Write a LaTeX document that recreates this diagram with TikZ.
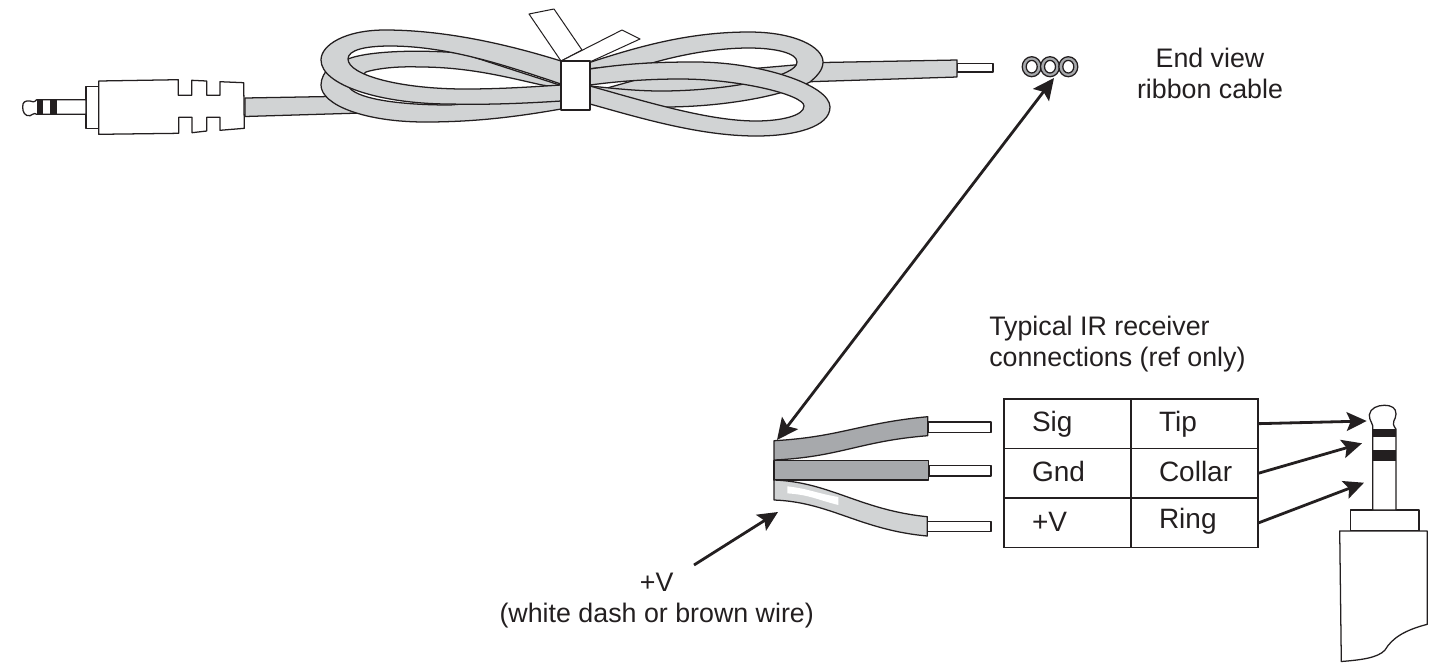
\documentclass[tikz,border=0pt]{standalone}
\usepackage{fontspec}
\setmainfont{Liberation Sans}
\usetikzlibrary{arrows.meta}
\definecolor{ink}{HTML}{231F20}
\definecolor{jacket}{HTML}{D1D3D4}
\definecolor{darkjacket}{HTML}{A7A9AC}
\tikzset{
  x=0.75pt,y=-0.75pt,
  outline/.style={draw=ink,line width=0.95pt,line join=round},
  band/.style={outline,fill=jacket,even odd rule},
  whitepart/.style={outline,fill=white},
  black band/.style={fill=ink,draw=none},
  cell/.style={draw=ink,line width=1pt,minimum width=95.25pt,minimum height=37pt,inner xsep=0pt,inner ysep=0pt,text width=74.25pt,align=left,font=\fontsize{21}{25}\selectfont,text=ink,outer sep=0pt},
  label text/.style={font=\fontsize{20.1}{23.25}\selectfont,text=ink,inner sep=0pt,align=center},
  pointer/.style={draw=ink,line width=2.1pt,-{Stealth[length=15pt,width=14pt,inset=3pt]}},
  both pointer/.style={draw=ink,line width=2.1pt,{Stealth[length=16pt,width=15pt,inset=3pt]}-{Stealth[length=16pt,width=15pt,inset=3pt]}},
}
\newcommand{\cellstrut}{\hspace*{10.5pt}\rule[-6pt]{0pt}{24pt}}
\begin{document}
\begin{tikzpicture}
\useasboundingbox (0,0) rectangle (1444,662);
% ---- cable, left part
\path[outline,fill=jacket] (245,98) -- (330,96.5) -- (355,96) -- (362,113) -- (245,116.5) -- cycle;
% left plug
\path[whitepart] (86,86.3) rectangle (98.7,128.3);
\path[whitepart] (36.7,99.7) -- (86,99.7) -- (86,114.3) -- (36.7,114.3)
  .. controls (34,112) and (32,115.5) .. (30,115.7) .. controls (25,116.5) and (22.5,112) .. (22.7,107)
  .. controls (22.5,102) and (25,100.5) .. (30,101) .. controls (32,101.5) and (34,103) .. (36.7,99.7) -- cycle;
\path[black band] (36.7,99.7) rectangle (42.7,114.3);
\path[black band] (50,99.7) rectangle (57,114.3);
\path[whitepart] (98.7,81) -- (178.3,79.7) -- (178.3,95.3) -- (191.7,95.3) -- (191.7,80.3) -- (206.7,81) -- (206.7,95.3) -- (220,95.3) -- (220,81.7) -- (243.7,82.7) -- (244.3,128.3) -- (220,130.3) -- (220,117.3) -- (206.7,117.3) -- (206.7,131) -- (192,132.7) -- (192,117.3) -- (178.7,117.3) -- (178.7,133.3) -- (98.7,134.3) -- cycle;
% back left loop
\path[band]
  (561,109) .. controls (510,118) and (470,122) .. (425,122) .. controls (365,122) and (321,105) .. (321,85) .. controls (321,72) and (335,59) .. (348,59) .. controls (365,52) and (410,49) .. (461,53) -- (575,90) -- (575,108) -- cycle
  (349,87) .. controls (355,97) and (390,105) .. (450,105) -- (575,95) -- (575,90) -- (542,85) .. controls (510,78) and (470,67) .. (420,67) .. controls (395,66) and (375,69) .. (366,72) -- cycle;
% front left loop
\path[band]
  (561,61) .. controls (500,42) and (440,30) .. (385,30) .. controls (345,30) and (321,45) .. (321,60) .. controls (321,85) and (380,104) .. (450,104) .. controls (490,105) and (530,103) .. (561,101) -- (575,100) -- (575,65) -- cycle
  (561,84) .. controls (510,67) and (450,46) .. (390,46) .. controls (365,46) and (348,50) .. (348,59) .. controls (348,75) and (400,89) .. (465,89) .. controls (500,89) and (530,87) .. (561,85) -- cycle;
% ---- cable, right part
\path[whitepart] (957,63.7) rectangle (993,72);
\path[outline,fill=jacket] (650,76) -- (760,68) -- (823,62.5) -- (957,60) -- (957,77) -- (810,81.7) -- (753,88) -- (673,95) -- (600,90) -- cycle;
\path[band]
  (591,62) .. controls (640,46) and (690,32) .. (749,32) .. controls (795,32) and (823,47) .. (823,62) .. controls (823,70) and (817,76) .. (810,82) .. controls (780,97) and (720,107) .. (664,107) -- (575,100) -- (575,66) -- cycle
  (575,70) -- (652,63) .. controls (680,55) and (715,48) .. (749,48) .. controls (775,48) and (797,53) .. (797,62) .. controls (797,66) and (793,69) .. (787,72) .. controls (765,83) and (710,91) .. (661,91) .. controls (635,91) and (610,88) .. (590,86) -- (575,86) -- cycle;
\path[band]
  (590,69) .. controls (630,63) and (660,62) .. (696,62) .. controls (760,62) and (830,85) .. (830,107) .. controls (830,127) and (795,136) .. (756,136) .. controls (700,136) and (640,118) .. (590,104) -- (575,100) -- (575,70) -- cycle
  (590,85) .. controls (620,81) and (650,79) .. (680,79) .. controls (740,79) and (804,95) .. (804,106) .. controls (804,116) and (780,121) .. (756,121) .. controls (710,121) and (650,103) .. (590,86) -- (575,86) -- (575,85) -- cycle;
% tie
\path[whitepart,line width=0.75pt] (561,61) -- (529,14) -- (554,9) -- (582,50) -- cycle;
\path[whitepart,line width=0.75pt] (561,61) -- (622,30) -- (640,39) -- (592,61) -- cycle;
\path[whitepart] (561,61) rectangle (590,110);
% ---- end view
\foreach \cx in {1031.7,1050,1068.3}{
  \path[outline,fill=darkjacket] (\cx,66.7) ellipse [x radius=9.5,y radius=10];
  \path[outline,fill=white] (\cx,66.7) ellipse [x radius=5.5,y radius=6.3];
}
\coordinate (endview) at (1054,78);
% ---- ribbon
\path[whitepart] (928,422) rectangle (991,432.3);
\path[whitepart] (929,465.7) rectangle (991,476);
\path[whitepart] (927.3,521.3) rectangle (991,531.7);
\path[outline,fill=darkjacket] (774,440.7) .. controls (840,437) and (860,423) .. (927.7,416.7) -- (927.7,435.7) .. controls (860,441) and (840,457) .. (774,460) -- cycle;
\path[outline,fill=darkjacket] (774,460.3) rectangle (928.3,480);
\path[outline,fill=jacket] (774,480) .. controls (830,482) and (860,510) .. (927.3,516.7) -- (927.3,536) .. controls (860,530) and (830,502) .. (774,500) -- cycle;
\path[fill=white] (787.3,486.3) .. controls (810,489) and (815,493) .. (838.3,497) -- (838.3,505) .. controls (815,499) and (810,495) .. (787.3,493.3) -- cycle;
\coordinate (ribbon end) at (777,440);
\coordinate (white dash) at (778,512);
% ---- right plug
\path[whitepart] (1350.3,510) rectangle (1419,531);
\path[whitepart] (1339.7,531) -- (1427.3,531) -- (1427.3,624.3) .. controls (1405,630) and (1392,638) .. (1385,650) .. controls (1378,658) and (1360,660) .. (1341.3,661.5) -- cycle;
\path[whitepart] (1372.7,429.3) .. controls (1374,424) and (1369,421) .. (1369.3,415) .. controls (1370,408) and (1378,405.3) .. (1384,405.3) .. controls (1392,405.3) and (1396,408) .. (1396,414) .. controls (1396,421) and (1390,421) .. (1396,429.3) -- (1396,510) -- (1372.7,510) -- cycle;
\path[black band] (1372.3,429.3) rectangle (1396,436.7);
\path[black band] (1373.3,450) rectangle (1396,461);
\coordinate (tip point) at (1366.7,421);
\coordinate (collar point) at (1362,443.3);
\coordinate (ring point) at (1364,482.7);
% ---- table
\node[cell,anchor=north west] (sig) at (1004,399) {\cellstrut Sig};
\node[cell,anchor=north west] (tip) at (1131,399) {\cellstrut Tip};
\node[cell,anchor=north west] (gnd) at (1004,448.7) {\cellstrut Gnd};
\node[cell,anchor=north west] (collar) at (1131,448.7) {\cellstrut Collar};
\node[cell,anchor=north west] (plusv) at (1004,498.4) {\cellstrut +V};
\node[cell,anchor=north west] (ring) at (1131,498.4) {\cellstrut\raisebox{2pt}{Ring}};
% ---- labels
\node[label text] (endlabel) at (1210,73) {End view\\ribbon cable};
\node[label text,align=left,anchor=west] (typical) at (989,344) {Typical IR receiver\\connections (ref only)};
\node[label text] (vlabel) at (656.7,601) {+V\\(white dash or brown wire)};
\coordinate (v tail) at (694,565);
% ---- connectors
\draw[both pointer] (ribbon end) -- (endview);
\draw[pointer] (v tail) -- (white dash);
\draw[pointer] (tip.east) -- (tip point);
\draw[pointer] (collar.east) -- (collar point);
\draw[pointer] (ring.east) -- (ring point);
\end{tikzpicture}
\end{document}
